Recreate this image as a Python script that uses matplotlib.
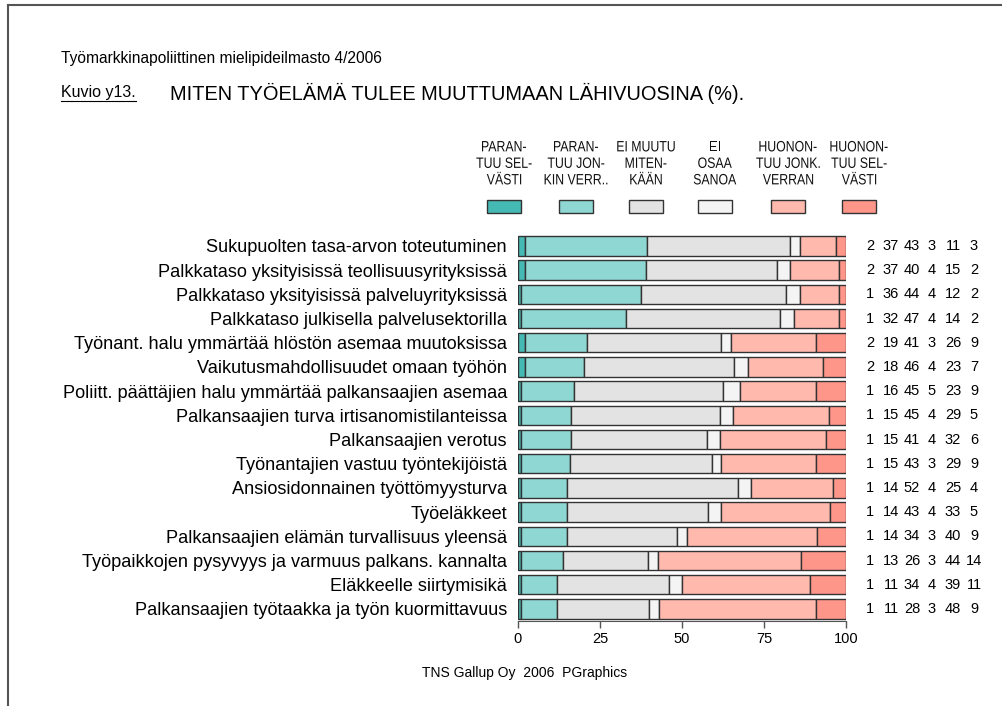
import matplotlib
matplotlib.use('Agg')
import matplotlib.pyplot as plt
from matplotlib.lines import Line2D
from matplotlib.patches import Rectangle, PathPatch
from matplotlib.textpath import TextPath
from matplotlib.font_manager import FontProperties
from matplotlib.transforms import Affine2D
import numpy as np

plt.rcParams['font.family'] = ['Liberation Sans', 'DejaVu Sans']

labels = [
    'Sukupuolten tasa-arvon toteutuminen',
    'Palkkataso yksityisissä teollisuusyrityksissä',
    'Palkkataso yksityisissä palveluyrityksissä',
    'Palkkataso julkisella palvelusektorilla',
    'Työnant. halu ymmärtää hlöstön asemaa muutoksissa',
    'Vaikutusmahdollisuudet omaan työhön',
    'Poliitt. päättäjien halu ymmärtää palkansaajien asemaa',
    'Palkansaajien turva irtisanomistilanteissa',
    'Palkansaajien verotus',
    'Työnantajien vastuu työntekijöistä',
    'Ansiosidonnainen työttömyysturva',
    'Työeläkkeet',
    'Palkansaajien elämän turvallisuus yleensä',
    'Työpaikkojen pysyvyys ja varmuus palkans. kannalta',
    'Eläkkeelle siirtymisikä',
    'Palkansaajien työtaakka ja työn kuormittavuus',
]

paranee_selvasti = [2, 2, 1, 1, 2, 2, 1, 1, 1, 1, 1, 1, 1, 1, 1, 1]
paranee_jonkin = [37, 37, 36, 32, 19, 18, 16, 15, 15, 15, 14, 14, 14, 13, 11, 11]
ei_muutu = [43, 40, 44, 47, 41, 46, 45, 45, 41, 43, 52, 43, 34, 26, 34, 28]
ei_osaa = [3, 4, 4, 4, 3, 4, 5, 4, 4, 3, 4, 4, 3, 3, 4, 3]
huononee_jonk = [11, 15, 12, 14, 26, 23, 23, 29, 32, 29, 25, 33, 40, 44, 39, 48]
huononee_selvasti = [3, 2, 2, 2, 9, 7, 9, 5, 6, 9, 4, 5, 9, 14, 11, 9]

legend_labels = [['PARAN-', 'TUU SEL-', 'VÄSTI'],
                 ['PARAN-', 'TUU JON-', 'KIN VERR..'],
                 ['EI MUUTU', 'MITEN-', 'KÄÄN'],
                 ['EI', 'OSAA', 'SANOA'],
                 ['HUONON-', 'TUU JONK.', 'VERRAN'],
                 ['HUONON-', 'TUU SEL-', 'VÄSTI']]
colors = ['#45b9b4', '#8fd7d3', '#e3e3e3', '#f4f4f4', '#ffb9ad', '#ff968a']

series = [paranee_selvasti, paranee_jonkin, ei_muutu, ei_osaa, huononee_jonk, huononee_selvasti]
data = np.array(series, dtype=float)
shares = data / data.sum(axis=0) * 100

W, H = 1003, 706
fig = plt.figure(figsize=(W / 100, H / 100), dpi=100)


def fx(px):
    return px / W


def fy(py):
    return 1 - py / H


def narrow_text(s, cx, cy, size_px, sx=0.82):
    # condensed text: glyph outlines squeezed horizontally (no narrow font installed)
    tp = TextPath((0, 0), s, size=size_px, prop=FontProperties(family='Liberation Sans'))
    bb = tp.get_extents()
    w = bb.width * sx
    tr = Affine2D().scale(sx, 1).translate(cx - w / 2 - bb.x0 * sx, H - cy - 0.358 * size_px)
    fig.add_artist(PathPatch(tp, transform=tr, facecolor='#111111', edgecolor='none'))


# frame: top and left only
fig.add_artist(Line2D([fx(8), 1], [fy(5), fy(5)], color='#555555', lw=1.5))
fig.add_artist(Line2D([fx(8), fx(8)], [fy(5), 0], color='#555555', lw=1.5))

fig.text(fx(61), fy(58), 'Työmarkkinapoliittinen mielipideilmasto 4/2006', fontsize=11.2, va='center', ha='left')
kt = fig.text(fx(61), fy(93), 'Kuvio y13.', fontsize=11.5, va='center', ha='left')
fig.text(fx(170), fy(93), 'MITEN TYÖELÄMÄ TULEE MUUTTUMAAN LÄHIVUOSINA (%).', fontsize=14.4, va='center', ha='left')

fig.canvas.draw()
bb = kt.get_window_extent().transformed(fig.transFigure.inverted())
fig.add_artist(Line2D([bb.x0, bb.x1], [fy(101), fy(101)], color='black', lw=0.8))

# bars
ax = fig.add_axes([fx(518), fy(621), fx(846) - fx(518), fy(230) - fy(621)])
n = len(labels)
y = np.arange(n)
left = np.zeros(n)
for k in range(len(series)):
    ax.barh(y, shares[k], left=left, height=0.8, color=colors[k], edgecolor='#333333', linewidth=1.0)
    left += shares[k]

ax.set_xlim(0, 100)
ax.set_ylim(15.5, -0.66)
ax.set_yticks(y)
ax.set_yticklabels(labels, fontsize=13.1)
ax.tick_params(axis='y', length=0, pad=8)
ax.set_xticks([0, 25, 50, 75, 100])
ax.tick_params(axis='x', length=5, width=1.0, color='#555555', labelsize=10.5, pad=3)
for s in ['top', 'right', 'left']:
    ax.spines[s].set_visible(False)
ax.spines['bottom'].set_color('#555555')
ax.spines['bottom'].set_bounds(0, 100)

# numbers on the right
col_px = [870, 891, 912, 932, 953, 974]
for k in range(len(series)):
    for i in range(n):
        ax.text((col_px[k] - 518) / 328 * 100, i, str(series[k][i]), ha='center', va='center',
                fontsize=10.5, clip_on=False)

# legend
leg_px = [504, 576, 646, 715, 788, 859]
for k in range(len(series)):
    fig.add_artist(Rectangle((fx(leg_px[k] - 17), fy(213)), fx(34), 13 / H,
                             facecolor=colors[k], edgecolor='#333333', lw=1.0))
    for j, line in enumerate(legend_labels[k]):
        narrow_text(line, leg_px[k], 146 + 16.5 * j, 15)

fig.text(fx(525), fy(673), 'TNS Gallup Oy  2006  PGraphics', ha='center', va='center', fontsize=10)

fig.savefig('out.png', dpi=100)
